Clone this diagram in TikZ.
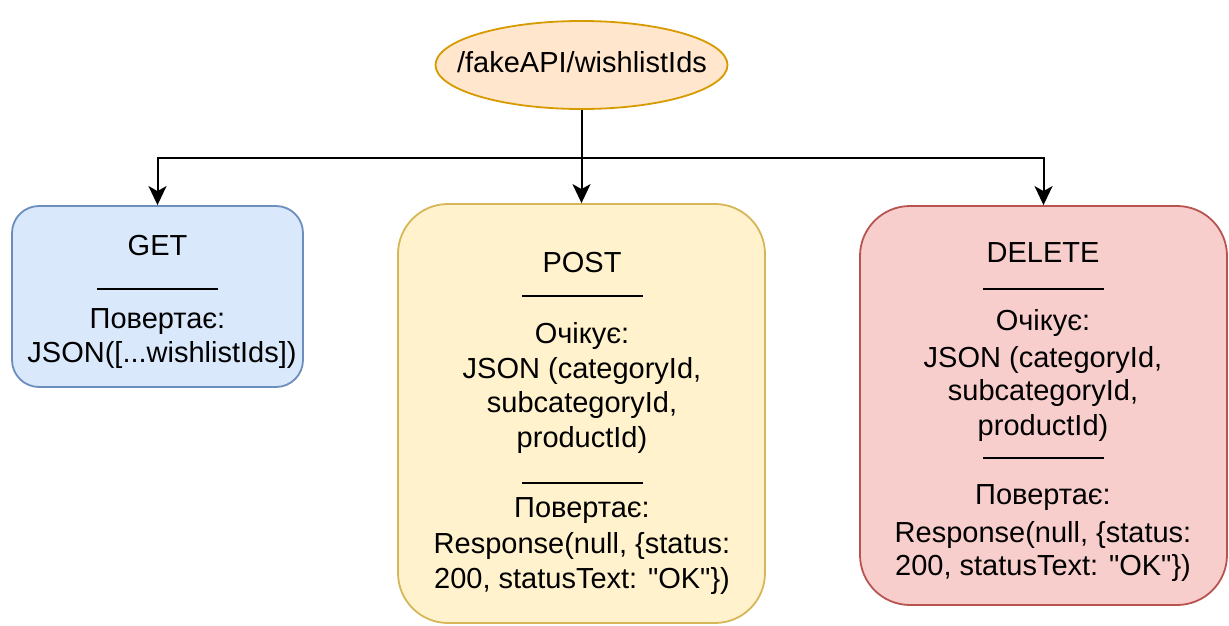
\documentclass[tikz,border=0pt]{standalone}
\usepackage{fontspec}
% plain family: keeps straight quotes as typed
\newfontfamily\plainsans{Liberation Sans}
\usetikzlibrary{arrows.meta,shapes.geometric}

\definecolor{apiFill}{HTML}{FFE6CC}
\definecolor{apiLine}{HTML}{D79B00}
\definecolor{getFill}{HTML}{DAE8FC}
\definecolor{getLine}{HTML}{6C8EBF}
\definecolor{postFill}{HTML}{FFF2CC}
\definecolor{postLine}{HTML}{D6B656}
\definecolor{delFill}{HTML}{F8CECC}
\definecolor{delLine}{HTML}{B85450}

\tikzset{
  methodbox/.style={draw, line width=1.8pt, rectangle, inner sep=0pt},
  txt/.style={inner sep=0pt, text height=20.5pt, text depth=0pt,
    font=\plainsans\fontsize{29}{34}\selectfont},
  sep/.style={line width=1.8pt, black},
  conn/.style={line width=2pt, black},
  arr/.style={conn, -{Stealth[length=19pt, width=18pt, inset=5pt]}}
}

\begin{document}
\begin{tikzpicture}[x=1pt, y=-1pt]
  \useasboundingbox (0,0) rectangle (1229,626);

  % endpoint
  \node[ellipse, draw=apiLine, fill=apiFill, line width=1.8pt,
        minimum width=292pt, minimum height=88pt, inner sep=0pt]
        (api) at (581.5,65) {};
  \node[txt] (apitxt) at (582,62) {/fakeAPI/wishlistIds};

  % method boxes
  \node[methodbox, draw=getLine, fill=getFill, rounded corners=27pt,
        minimum width=291pt, minimum height=181pt] (get) at (157.5,296.5) {};
  \node[methodbox, draw=postLine, fill=postFill, rounded corners=50pt,
        minimum width=367pt, minimum height=419pt] (post) at (581.5,413.5) {};
  \node[methodbox, draw=delLine, fill=delFill, rounded corners=50pt,
        minimum width=367pt, minimum height=399pt] (del) at (1043.5,405.5) {};

  % connectors
  \coordinate (split) at (581.5,158);
  \draw[conn] (api.south) -- (split);
  \draw[arr] (split) -| (get.north);
  \draw[arr] (split) -- (post.north);
  \draw[arr] (split) -| (del.north);

  % GET contents
  \node[txt] (g1) at (157.5,245) {GET};
  \draw[sep] (97,289) -- (218,289);
  \node[txt] (g2) at (157.5,318) {Повертає:};
  \node[txt] (g3) at (162,352) {JSON([...wishlistIds])};

  % POST contents
  \node[txt] (p1) at (582,262) {POST};
  \draw[sep] (522,296) -- (643,296);
  \node[txt] (p2) at (582,333) {Очікує:};
  \node[txt] (p3) at (582,368) {JSON (categoryId,};
  \node[txt] (p4) at (582,402) {subcategoryId,};
  \node[txt] (p5) at (582,437) {productId)};
  \draw[sep] (522,483) -- (643,483);
  \node[txt] (p6) at (582,507) {Повертає:};
  \node[txt] (p7) at (582,543) {Response(null, \{status:};
  \node[txt] (p8) at (582,578) {200, statusText: "OK"\})};

  % DELETE contents
  \node[txt] (d1) at (1043,252) {DELETE};
  \draw[sep] (983,289) -- (1104,289);
  \node[txt] (d2) at (1043,320) {Очікує:};
  \node[txt] (d3) at (1043,357) {JSON (categoryId,};
  \node[txt] (d4) at (1043,390) {subcategoryId,};
  \node[txt] (d5) at (1043,425) {productId)};
  \draw[sep] (983,458) -- (1104,458);
  \node[txt] (d6) at (1043,494) {Повертає:};
  \node[txt] (d7) at (1043,532) {Response(null, \{status:};
  \node[txt] (d8) at (1043,565) {200, statusText: "OK"\})};
\end{tikzpicture}
\end{document}
